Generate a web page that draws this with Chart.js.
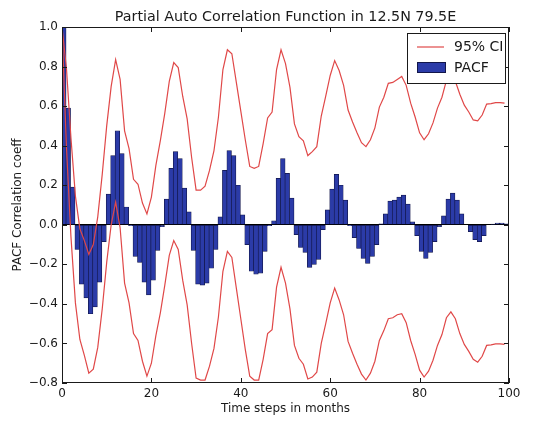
<!DOCTYPE html>
<html>
<head>
<meta charset="utf-8">
<title>PACF 12.5N 79.5E</title>
<script src="https://cdn.jsdelivr.net/npm/chart.js@4.4.0/dist/chart.umd.min.js"></script>
<style>
  html, body { margin: 0; padding: 0; background: #ffffff; }
  canvas { display: block; }
</style>
</head>
<body>
<canvas id="pacfChart" width="539" height="421"></canvas>
<script>
// Partial autocorrelation per lag (months 0..99)
const pacf = [
  1.0, 0.59, 0.19, -0.125, -0.30, -0.37, -0.45, -0.415, -0.29, -0.085,
  0.155, 0.35, 0.475, 0.36, 0.09, -0.005, -0.16, -0.19, -0.29, -0.355,
  -0.28, -0.13, -0.01, 0.13, 0.285, 0.37, 0.335, 0.185, 0.065, -0.13,
  -0.30, -0.305, -0.295, -0.22, -0.125, 0.04, 0.275, 0.375, 0.35, 0.20,
  0.05, -0.10, -0.235, -0.25, -0.245, -0.135, -0.005, 0.02, 0.235, 0.335,
  0.26, 0.135, -0.05, -0.115, -0.14, -0.215, -0.20, -0.175, -0.025, 0.075,
  0.18, 0.255, 0.20, 0.125, -0.005, -0.065, -0.12, -0.17, -0.195, -0.16,
  -0.10, 0.005, 0.055, 0.12, 0.125, 0.14, 0.15, 0.105, 0.015, -0.055,
  -0.135, -0.17, -0.14, -0.085, -0.01, 0.045, 0.13, 0.16, 0.125, 0.055,
  0.0, -0.035, -0.075, -0.085, -0.055, 0.0, 0.003, 0.008, 0.008, 0.005
];

// Upper bound of the 95% confidence interval per lag
const ciUpper = [
  1.0, 0.79, 0.44, 0.145, -0.02, -0.08, -0.15, -0.10, 0.04, 0.255,
  0.50, 0.70, 0.835, 0.735, 0.475, 0.385, 0.23, 0.205, 0.11, 0.055,
  0.14, 0.30, 0.425, 0.565, 0.725, 0.82, 0.795, 0.65, 0.535, 0.34,
  0.175, 0.175, 0.195, 0.275, 0.375, 0.545, 0.785, 0.885, 0.865, 0.72,
  0.575, 0.43, 0.295, 0.285, 0.295, 0.41, 0.54, 0.57, 0.785, 0.885,
  0.815, 0.695, 0.51, 0.445, 0.425, 0.35, 0.37, 0.395, 0.55, 0.65,
  0.755, 0.83, 0.78, 0.705, 0.58, 0.52, 0.465, 0.415, 0.395, 0.43,
  0.49, 0.595, 0.645, 0.715, 0.72, 0.735, 0.75, 0.705, 0.615, 0.545,
  0.465, 0.43, 0.46, 0.515, 0.59, 0.645, 0.73, 0.76, 0.725, 0.66,
  0.605, 0.57, 0.53, 0.525, 0.555, 0.61, 0.613, 0.618, 0.618, 0.615
];

// Lower bound of the 95% confidence interval per lag
const ciLower = [
  1.0, 0.39, -0.06, -0.395, -0.58, -0.66, -0.75, -0.73, -0.62, -0.425,
  -0.19, 0.0, 0.115, -0.015, -0.295, -0.395, -0.55, -0.585, -0.69, -0.765,
  -0.70, -0.56, -0.445, -0.305, -0.155, -0.08, -0.125, -0.28, -0.405, -0.60,
  -0.775, -0.785, -0.785, -0.715, -0.625, -0.465, -0.235, -0.135, -0.165, -0.32,
  -0.475, -0.63, -0.765, -0.785, -0.785, -0.68, -0.55, -0.53, -0.315, -0.215,
  -0.295, -0.425, -0.61, -0.675, -0.705, -0.78, -0.77, -0.745, -0.60, -0.50,
  -0.395, -0.32, -0.38, -0.455, -0.59, -0.65, -0.705, -0.755, -0.785, -0.75,
  -0.69, -0.585, -0.535, -0.475, -0.47, -0.455, -0.45, -0.495, -0.585, -0.655,
  -0.735, -0.77, -0.74, -0.685, -0.61, -0.555, -0.47, -0.44, -0.475, -0.55,
  -0.605, -0.64, -0.68, -0.695, -0.665, -0.61, -0.607, -0.602, -0.602, -0.605
];

const lags = pacf.map((_, i) => i);
const xTicks = [0, 20, 40, 60, 80, 100];
const yTicks = [1.0, 0.8, 0.6, 0.4, 0.2, 0.0, -0.2, -0.4, -0.6, -0.8];

const titleText = 'Partial Auto Correlation Function in 12.5N 79.5E';
const xTitle = 'Time steps in months';
const yTitle = 'PACF Correlation coeff';
const ciLabel = '95% CI';
const barLabel = 'PACF';

const FONT = "'DejaVu Sans', 'Liberation Sans', sans-serif";
const RED = '#e04848';
const BAR_FILL = '#2b3ba8';
const BAR_EDGE = '#12164a';
const INK = '#1a1a1a';
const BAR_WIDTH = 0.8; // in lag units, bar starts at the lag

const fmtTick = v => (v < -1e-9 ? '\u2212' + Math.abs(v).toFixed(1) : Math.abs(v).toFixed(1));

// Title centred over the plotting area
const titlePlugin = {
  id: 'plotTitle',
  afterDraw(chart) {
    const { ctx, chartArea: a } = chart;
    ctx.save();
    ctx.fillStyle = INK;
    ctx.font = '14.3px ' + FONT;
    ctx.textAlign = 'center';
    ctx.textBaseline = 'alphabetic';
    ctx.fillText(titleText, (a.left + a.right) / 2, 21);
    ctx.restore();
  }
};

// Axes frame with inward tick marks on all four sides
const framePlugin = {
  id: 'frame',
  afterDatasetsDraw(chart) {
    const { ctx, chartArea: a, scales: { x, y } } = chart;
    ctx.save();
    ctx.strokeStyle = INK;
    ctx.lineWidth = 1;
    ctx.strokeRect(Math.round(a.left) + 0.5, Math.round(a.top) + 0.5,
                   Math.round(a.right - a.left) - 1, Math.round(a.bottom - a.top) - 1);
    const len = 5;
    ctx.beginPath();
    xTicks.forEach(t => {
      const px = Math.round(x.getPixelForValue(t)) + 0.5;
      ctx.moveTo(px, a.bottom); ctx.lineTo(px, a.bottom - len);
      ctx.moveTo(px, a.top); ctx.lineTo(px, a.top + len);
    });
    yTicks.forEach(t => {
      const py = Math.round(y.getPixelForValue(t)) + 0.5;
      ctx.moveTo(a.left, py); ctx.lineTo(a.left + len, py);
      ctx.moveTo(a.right, py); ctx.lineTo(a.right - len, py);
    });
    ctx.stroke();
    ctx.restore();
  }
};

// Legend box in the upper right corner of the plot
const legendPlugin = {
  id: 'cornerLegend',
  afterDraw(chart) {
    const { ctx, chartArea: a } = chart;
    const w = 98, h = 50;
    const x0 = Math.round(a.right) - 4 - w, y0 = Math.round(a.top) + 6;
    ctx.save();
    ctx.fillStyle = '#ffffff';
    ctx.fillRect(x0, y0, w, h);
    ctx.strokeStyle = INK;
    ctx.lineWidth = 1;
    ctx.strokeRect(x0 + 0.5, y0 + 0.5, w, h);
    // line sample
    ctx.strokeStyle = RED;
    ctx.lineWidth = 1.2;
    ctx.beginPath();
    ctx.moveTo(x0 + 10, y0 + 14);
    ctx.lineTo(x0 + 37, y0 + 14);
    ctx.stroke();
    // bar sample
    ctx.fillStyle = BAR_FILL;
    ctx.fillRect(x0 + 10, y0 + 29, 28, 10);
    ctx.strokeStyle = BAR_EDGE;
    ctx.lineWidth = 1;
    ctx.strokeRect(x0 + 10.5, y0 + 29.5, 28, 10);
    // labels
    ctx.fillStyle = INK;
    ctx.font = '14px ' + FONT;
    ctx.textBaseline = 'middle';
    ctx.textAlign = 'left';
    ctx.fillText(ciLabel, x0 + 47, y0 + 14);
    ctx.fillText(barLabel, x0 + 47, y0 + 35);
    ctx.restore();
  }
};

const ctx = document.getElementById('pacfChart').getContext('2d');
const chart = new Chart(ctx, {
  type: 'bar',
  data: {
    datasets: [
      {
        type: 'line',
        label: ciLabel,
        data: lags.map(i => ({ x: i, y: ciUpper[i] })),
        borderColor: RED,
        borderWidth: 1.2,
        pointRadius: 0,
        tension: 0,
        fill: false,
        order: 0
      },
      {
        type: 'line',
        label: ciLabel + ' (lower)',
        data: lags.map(i => ({ x: i, y: ciLower[i] })),
        borderColor: RED,
        borderWidth: 1.2,
        pointRadius: 0,
        tension: 0,
        fill: false,
        order: 0
      },
      {
        type: 'bar',
        label: barLabel,
        data: lags.map(i => ({ x: i + BAR_WIDTH / 2, y: pacf[i] })),
        backgroundColor: BAR_FILL,
        borderColor: BAR_EDGE,
        borderWidth: 0.7,
        borderSkipped: false,
        barThickness: 3,
        order: 1
      }
    ]
  },
  options: {
    responsive: false,
    animation: false,
    devicePixelRatio: 1,
    layout: { padding: { left: 0, right: 30, top: 27, bottom: 0 } },
    plugins: {
      legend: { display: false },
      tooltip: { enabled: false },
      title: { display: false }
    },
    scales: {
      x: {
        type: 'linear',
        min: 0,
        max: 100,
        offset: false,
        grid: { display: false, drawTicks: false },
        border: { display: false },
        ticks: {
          stepSize: 20,
          padding: 4,
          color: INK,
          font: { family: FONT, size: 12 },
          maxRotation: 0,
          callback: v => (xTicks.includes(v) ? String(v) : '')
        },
        title: {
          display: true,
          text: xTitle,
          color: INK,
          font: { family: FONT, size: 12 },
          padding: { top: 0, bottom: 5 }
        },
        afterFit(scale) { scale.height = 38; }
      },
      y: {
        type: 'linear',
        min: -0.8,
        max: 1.0,
        grid: {
          drawTicks: false,
          color: c => (Math.abs(c.tick.value) < 1e-9 ? '#000000' : 'rgba(0,0,0,0)'),
          lineWidth: 1
        },
        border: { display: false },
        ticks: {
          stepSize: 0.2,
          padding: 4,
          color: INK,
          font: { family: FONT, size: 12 },
          callback: v => fmtTick(v)
        },
        title: {
          display: true,
          text: yTitle,
          color: INK,
          font: { family: FONT, size: 12 },
          padding: { top: 11, bottom: 0 }
        },
        afterFit(scale) { scale.width = 62; }
      }
    }
  },
  plugins: [titlePlugin, framePlugin, legendPlugin]
});

// Bar width follows the x scale: 0.8 lag units plus the edge stroke
const xs = chart.scales.x;
const unitPx = xs.getPixelForValue(1) - xs.getPixelForValue(0);
chart.data.datasets[2].barThickness = unitPx * BAR_WIDTH + 1;
chart.update();
</script>
</body>
</html>
